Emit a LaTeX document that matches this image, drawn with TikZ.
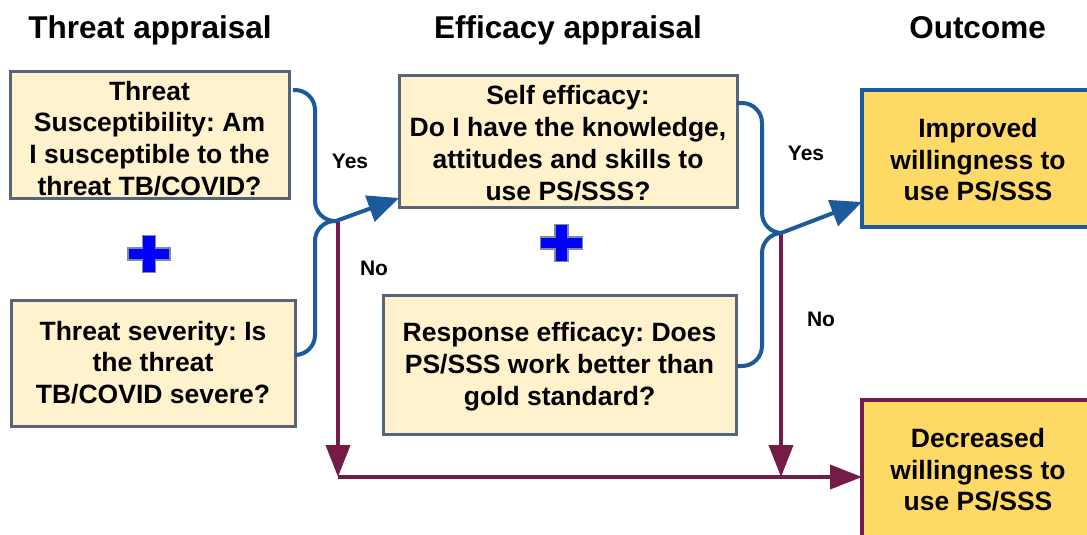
\documentclass[tikz,border=0pt]{standalone}
\usepackage{fontspec}
\setmainfont{Liberation Sans}
\usetikzlibrary{arrows.meta,calc}

\definecolor{boxfill}{HTML}{FFF2CC}
\definecolor{boxline}{HTML}{56657A}
\definecolor{outfill}{HTML}{FFD966}
\definecolor{yesblue}{HTML}{1C5A9C}
\definecolor{nopurple}{HTML}{741B47}
\definecolor{plusblue}{HTML}{0000FF}
\definecolor{plusline}{HTML}{7F8C9A}

\begin{document}
\frenchspacing
\begin{tikzpicture}[x=1pt,y=-1pt,
  appraisal/.style={draw=boxline, line width=3pt, fill=boxfill, inner sep=0pt, outer sep=0pt},
  outcomebox/.style={line width=3.5pt, fill=outfill, inner sep=0pt, outer sep=0pt},
  boxtext/.style={font=\fontsize{26.5pt}{31.7pt}\selectfont\bfseries, align=center, inner sep=0pt},
  heading/.style={font=\fontsize{31.5pt}{36pt}\selectfont\bfseries, anchor=base, inner sep=0pt},
  answer/.style={font=\fontsize{21pt}{24pt}\selectfont\bfseries, anchor=base, inner sep=0pt},
  yesline/.style={draw=yesblue, line width=4pt, rounded corners=20pt},
  yesarrow/.style={draw=yesblue, line width=4pt, -{Triangle[length=31pt,width=27pt]}},
  noarrow/.style={draw=nopurple, line width=4pt, -{Triangle[length=32pt,width=24pt]}},
  plussign/.pic={
    \filldraw[fill=plusblue, draw=plusline, line width=1.2pt]
      (-6.5,-18.5) -- (6.5,-18.5) -- (6.5,-6) -- (21,-6) -- (21,6) -- (6.5,6)
      -- (6.5,18.5) -- (-6.5,18.5) -- (-6.5,6) -- (-21,6) -- (-21,-6) -- (-6.5,-6) -- cycle;
  },
]
\useasboundingbox (0,0) rectangle (1087,535);
\clip (0,0) rectangle (1087,535);

% column headings
\node[heading] (h1) at (150,38.3) {Threat appraisal};
\node[heading] (h2) at (568,38.3) {Efficacy appraisal};
\node[heading] (h3) at (977.5,38.3) {Outcome};

% appraisal boxes
\node[appraisal, minimum width=279pt, minimum height=126pt] (b1) at (149.5,135) {};
\node[appraisal, minimum width=284pt, minimum height=126pt] (b2) at (153,363) {};
\node[appraisal, minimum width=338pt, minimum height=131pt] (b3) at (568,141.5) {};
\node[appraisal, minimum width=353pt, minimum height=139pt] (b4) at (559.5,364.5) {};

\node[boxtext] (t1) at (149.5,138.5) {Threat\\Susceptibility: Am\\I susceptible to the\\threat TB/COVID?};
\node[boxtext] (t2) at (153,362.4) {Threat severity: Is\\the threat\\TB/COVID severe?};
\node[boxtext] (t3) at (568,143.2) {Self efficacy:\\Do I have the knowledge,\\attitudes and skills to\\use PS/SSS?};
\node[boxtext] (t4) at (559.5,366.6) {Response efficacy: Does\\PS/SSS work better than\\gold standard?};

% outcome boxes
\node[outcomebox, draw=yesblue, minimum width=248pt, minimum height=137pt] (imp) at (986,158.5) {};
\node[outcomebox, draw=nopurple, minimum width=248pt, minimum height=154pt] (dec) at (986,477) {};
\node[boxtext] (timp) at (978,159.7) {Improved\\willingness to\\use PS/SSS};
\node[boxtext] (tdec) at (978,469.7) {Decreased\\willingness to\\use PS/SSS};

% plus signs between the paired appraisals
\pic at (149,254) {plussign};
\pic at (561.5,243) {plussign};

% junctions where the braces meet
\coordinate (jL) at (336,221);
\coordinate (jR) at (781,233);
\coordinate (nL) at (338,477);
\coordinate (nR) at (jR |- nL);

% "No" paths
\draw[noarrow] ($(jL)+(2,0)$) -- (nL);
\draw[noarrow] (jR) -- (nR);
\draw[noarrow] (nL) -- (dec.west);

% "Yes" braces and arrows
\draw[yesline] ($(b1.north east)+(4,18)$) -| ($(jL)+(-21,0)$) -- (jL);
\draw[yesline] (jL) -- ($(jL)+(-21,0)$) |- ($(b2.north east)+(0,55)$);
\draw[yesarrow] (jL) -- ($(b3.south west)+(0,-9)$);

\draw[yesline] ($(b3.north east)+(0,27)$) -| ($(jR)+(-19,0)$) -- (jR);
\draw[yesline] (jR) -- ($(jR)+(-19,0)$) |- ($(b4.north east)+(1,71)$);
\draw[yesarrow] (jR) -- ($(imp.south west)+(0,-25)$);

% branch labels
\node[answer] (yesL) at (350,168.3) {Yes};
\node[answer] (noL) at (374,275) {No};
\node[answer] (yesR) at (806,160) {Yes};
\node[answer] (noR) at (821,326.7) {No};
\end{tikzpicture}
\end{document}
